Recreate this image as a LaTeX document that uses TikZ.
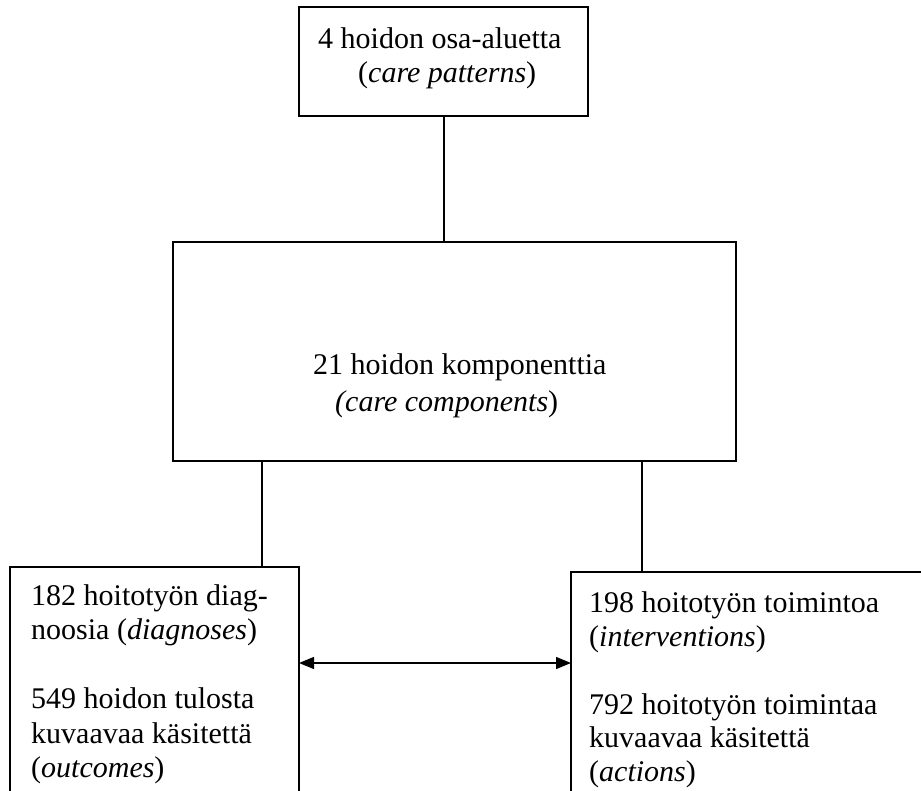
\documentclass[tikz,border=0pt]{standalone}
\usepackage{fontspec}
\setmainfont{Liberation Serif}
\usetikzlibrary{arrows.meta}
\begin{document}
\begin{tikzpicture}[x=1pt,y=-1pt,
  box/.style={draw, line width=1.3pt, rectangle, inner sep=0pt, outer sep=0pt, anchor=north west},
  txt/.style={anchor=base west, inner sep=0pt, font=\fontsize{30}{34.5}\selectfont},
  conn/.style={line width=1.3pt},
  dblarrow/.style={line width=1.3pt, {Triangle[length=15pt,width=12pt]}-{Triangle[length=15pt,width=12pt]}}]
\clip (0,0) rectangle (921,791);
\fill[white] (0,0) rectangle (921,791);
% boxes
\node[box, minimum width=289pt, minimum height=109pt] (top) at (299,7) {};
\node[box, minimum width=563pt, minimum height=219pt] (mid) at (173,242) {};
\node[box, minimum width=289pt, minimum height=260pt] (lbox) at (10,567) {};
\node[box, minimum width=380pt, minimum height=260pt] (rbox) at (571,572) {};
% texts
\node[txt] (t1) at (318,49) {4 hoidon osa-aluetta};
\node[txt] (t2) at (358,83) {(\textit{care patterns})};
\node[txt] (m1) at (313,375) {21 hoidon komponenttia};
\node[txt] (m2) at (335,412) {\textit{(care components})};
\node[txt] (l1) at (31,605) {182 hoitotyön diag-};
\node[txt] (l2) at (31,639.5) {noosia (\textit{diagnoses})};
\node[txt] (l3) at (31,708.5) {549 hoidon tulosta};
\node[txt] (l4) at (31,743) {kuvaavaa käsitettä};
\node[txt] (l5) at (31,777.5) {(\textit{outcomes})};
\node[txt] (r1) at (589,612) {198 hoitotyön toimintoa};
\node[txt] (r2) at (589,646) {(\textit{interventions})};
\node[txt] (r3) at (589,714) {792 hoitotyön toimintaa};
\node[txt] (r4) at (589,747.5) {kuvaavaa käsitettä};
\node[txt] (r5) at (589,781) {(\textit{actions})};
% connectors
\draw[conn] ([xshift=145]top.south west) -- ([xshift=271]mid.north west);
\draw[conn] ([xshift=89]mid.south west) -- ([xshift=252]lbox.north west);
\draw[conn] ([xshift=469]mid.south west) -- ([xshift=71]rbox.north west);
\draw[dblarrow] ([yshift=-96]lbox.north east) -- ([yshift=-91]rbox.north west);
\end{tikzpicture}
\end{document}
